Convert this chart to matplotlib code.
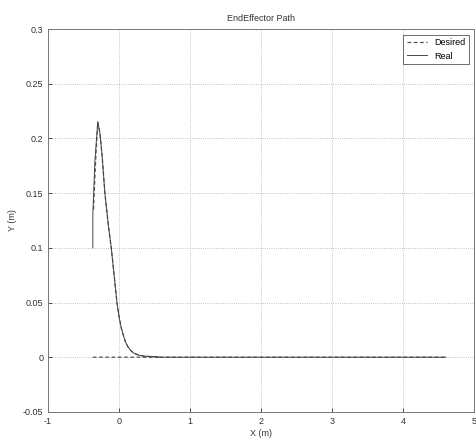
import matplotlib.pyplot as plt
import numpy as np

plt.rcParams["font.family"] = ["Liberation Sans", "DejaVu Sans"]

# desired path (dashed): hump then flat line; NaN splits the separate flat segment
des_x = [-0.36, -0.33, -0.30, -0.27, -0.24, -0.20, -0.15, -0.11, -0.07, -0.03,
         0.00, 0.03, 0.06, 0.09, 0.12, 0.16, 0.20, 0.27, 0.35, 0.60, 4.60,
         np.nan, -0.37, 0.60]
des_y = [0.135, 0.18, 0.215, 0.205, 0.185, 0.15, 0.12, 0.10, 0.075, 0.05,
         0.037, 0.027, 0.02, 0.014, 0.01, 0.0065, 0.004, 0.002, 0.001, 0.0, 0.0,
         np.nan, 0.0, 0.0]

# real path (solid)
real_x = [-0.37, -0.37, -0.34, -0.30, -0.27, -0.24, -0.20, -0.15, -0.11, -0.07,
          -0.03, 0.00, 0.03, 0.06, 0.09, 0.12, 0.16, 0.20, 0.27, 0.35, 0.60, 4.60]
real_y = [0.10, 0.13, 0.18, 0.215, 0.205, 0.185, 0.15, 0.12, 0.10, 0.075,
          0.05, 0.037, 0.027, 0.02, 0.014, 0.01, 0.0065, 0.004, 0.002, 0.001,
          0.0, 0.0]

x_ticks = [-1, 0, 1, 2, 3, 4, 5]
y_ticks = [-0.05, 0, 0.05, 0.1, 0.15, 0.2, 0.25, 0.3]

fig = plt.figure(figsize=(4.76, 4.41), dpi=100)
ax = fig.add_axes([0.101, 0.066, 0.895, 0.868])

ax.plot(des_x, des_y, color="#555555", linestyle="--", linewidth=0.9,
        dashes=(3, 2), label="Desired")
ax.plot(real_x, real_y, color="#444444", linestyle="-", linewidth=0.7, label="Real")

ax.set_xlim(-1, 5)
ax.set_ylim(-0.05, 0.3)
ax.set_xticks(x_ticks)
ax.set_yticks(y_ticks)
ax.set_xticklabels([f"{v:g}" for v in x_ticks])
ax.set_yticklabels([f"{v:g}" for v in y_ticks])
ax.tick_params(direction="in", length=3, labelsize=6.5, colors="#333333", width=0.6)
ax.grid(True, linestyle=":", color="#b0b0b0", linewidth=0.6)
for s in ax.spines.values():
    s.set_color("#777777")
    s.set_linewidth(0.7)

ax.set_title("EndEffector Path", fontsize=6.5, color="#333333", pad=6)
ax.set_xlabel("X (m)", fontsize=6.5, color="#333333", labelpad=2)
ax.set_ylabel("Y (m)", fontsize=6.5, color="#333333", labelpad=4)

leg = ax.legend(loc="upper right", fontsize=6.5, fancybox=False, framealpha=1,
                edgecolor="#555555", handlelength=2.2, borderaxespad=0.6)
leg.get_frame().set_linewidth(0.6)

fig.savefig("out.png", dpi=100)
